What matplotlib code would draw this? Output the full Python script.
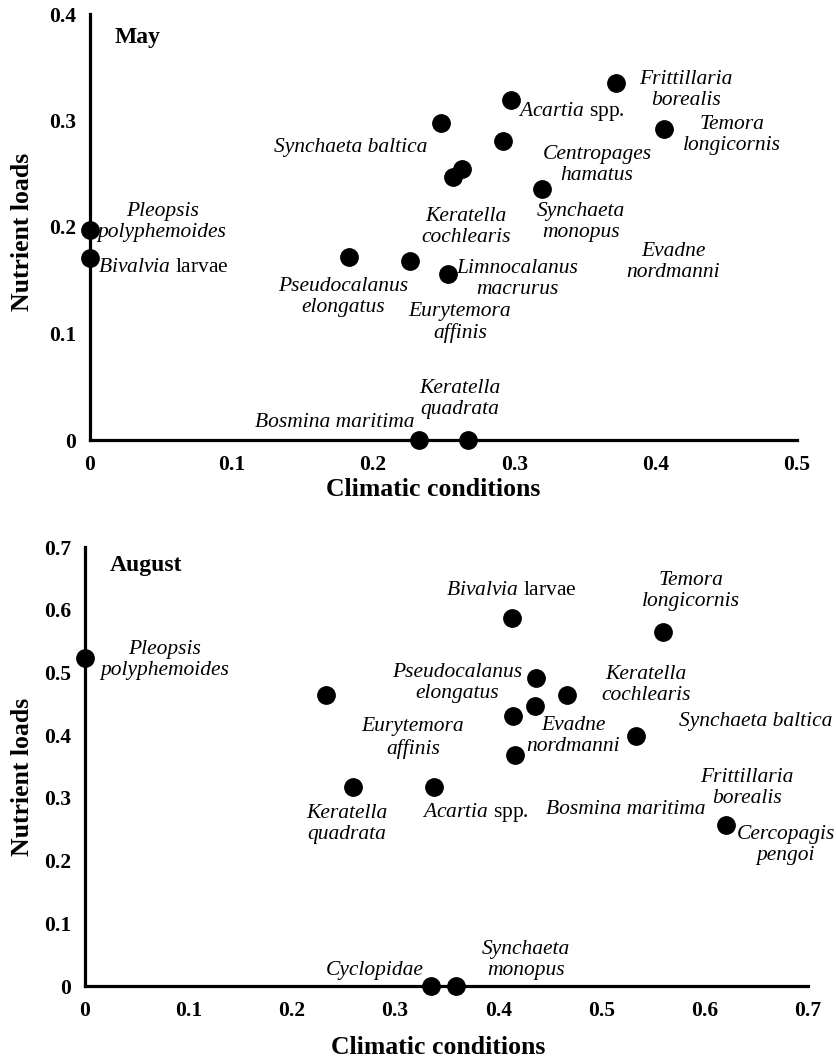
import matplotlib
matplotlib.use("Agg")
import matplotlib.pyplot as plt

plt.rcParams['font.family'] = ['Liberation Serif', 'DejaVu Serif']
plt.rcParams['mathtext.fontset'] = 'custom'
plt.rcParams['mathtext.rm'] = 'Liberation Serif'
plt.rcParams['mathtext.it'] = 'Liberation Serif:italic'
plt.rcParams['mathtext.bf'] = 'Liberation Serif:bold'

# May: dot coordinates
may_x = [0, 0, 0.183, 0.226, 0.253, 0.248, 0.292, 0.298, 0.263, 0.257, 0.320, 0.372, 0.406, 0.233, 0.267]
may_y = [0.197, 0.171, 0.172, 0.168, 0.156, 0.298, 0.281, 0.319, 0.254, 0.247, 0.236, 0.335, 0.292, 0.0, 0.0]

# August: dot coordinates
aug_x = [0, 0.233, 0.259, 0.338, 0.437, 0.436, 0.414, 0.416, 0.413, 0.560, 0.467, 0.533, 0.621, 0.335, 0.359]
aug_y = [0.523, 0.464, 0.317, 0.317, 0.491, 0.447, 0.431, 0.368, 0.587, 0.565, 0.464, 0.399, 0.257, 0.0, 0.0]

# species labels
may_labels = ["Pleopsis\npolyphemoides", r"$\mathit{Bivalvia}$ larvae", "Synchaeta baltica",
              r"$\mathit{Acartia}$ spp.", "Frittillaria\nborealis", "Temora\nlongicornis",
              "Centropages\nhamatus", "Keratella\ncochlearis", "Synchaeta\nmonopus",
              "Evadne\nnordmanni", "Limnocalanus\nmacrurus", "Eurytemora\naffinis",
              "Pseudocalanus\nelongatus", "Bosmina maritima", "Keratella\nquadrata"]
aug_labels = ["Pleopsis\npolyphemoides", r"$\mathit{Bivalvia}$ larvae", "Temora\nlongicornis",
              "Pseudocalanus\nelongatus", "Keratella\ncochlearis", "Eurytemora\naffinis",
              "Evadne\nnordmanni", "Synchaeta baltica", "Frittillaria\nborealis",
              "Bosmina maritima", "Cercopagis\npengoi", "Keratella\nquadrata",
              r"$\mathit{Acartia}$ spp.", "Cyclopidae", "Synchaeta\nmonopus"]

# label placement (layout)
may_pos = [(0.051, 0.205, 'center'), (0.0057, 0.162, 'left'), (0.1846, 0.275, 'center'),
           (0.3027, 0.308, 'left'), (0.4215, 0.3286, 'center'), (0.454, 0.2864, 'center'),
           (0.3586, 0.258, 'center'), (0.266, 0.200, 'center'), (0.347, 0.2047, 'center'),
           (0.4123, 0.167, 'center'), (0.302, 0.151, 'center'), (0.2617, 0.110, 'center'),
           (0.179, 0.134, 'center'), (0.2298, 0.0169, 'right'), (0.2617, 0.0385, 'center')]
aug_pos = [(0.0774, 0.520, 'center'), (0.413, 0.630, 'center'), (0.5866, 0.630, 'center'),
           (0.360, 0.483, 'center'), (0.543, 0.480, 'center'), (0.3175, 0.3955, 'center'),
           (0.473, 0.399, 'center'), (0.6496, 0.421, 'center'), (0.641, 0.316, 'center'),
           (0.5237, 0.281, 'center'), (0.6786, 0.225, 'center'), (0.2536, 0.258, 'center'),
           (0.3775, 0.276, 'center'), (0.328, 0.0255, 'right'), (0.427, 0.0415, 'center')]

W, H = 837, 1061
fig = plt.figure(figsize=(W / 100, H / 100), dpi=100)


def make_panel(rect, xs, ys, labels, pos, xmax, ymax, xticks, yticks, title, title_xy,
               ylab_y, xlab_y, xlab_x):
    l, b, r, t = rect
    ax = fig.add_axes([l / W, 1 - b / H, (r - l) / W, (b - t) / H])
    ax.set_xlim(0, xmax)
    ax.set_ylim(0, ymax)
    for s in ['top', 'right']:
        ax.spines[s].set_visible(False)
    for s in ['left', 'bottom']:
        ax.spines[s].set_linewidth(2.3)
    ax.set_xticks(xticks)
    ax.set_yticks(yticks)
    ax.set_xticklabels(["0" if v == 0 else f"{v:.1f}" for v in xticks])
    ax.set_yticklabels(["0" if v == 0 else f"{v:.1f}" for v in yticks])
    ax.tick_params(length=0, labelsize=15.5)
    ax.tick_params(axis='y', pad=10)
    ax.tick_params(axis='x', pad=11)
    for lab in ax.get_xticklabels() + ax.get_yticklabels():
        lab.set_fontweight('bold')
    ax.plot(xs, ys, 'o', color='black', markersize=12.5, linestyle='none',
            clip_on=False, zorder=5)
    for txt, (x, y, ha) in zip(labels, pos):
        ax.text(x, y, txt, ha=ha, va='center', multialignment='center',
                fontsize=15.5, style='normal' if '$' in txt else 'italic',
                linespacing=1.15)
    ax.text(title_xy[0], title_xy[1], title, fontsize=17, fontweight='bold',
            ha='left', va='center')
    fig.text(23 / W, 1 - ylab_y / H, "Nutrient loads", rotation=90, fontsize=18.5,
             fontweight='bold', ha='center', va='center')
    fig.text(xlab_x / W, 1 - xlab_y / H, "Climatic conditions", fontsize=18.5,
             fontweight='bold', ha='center', va='center')
    return ax


make_panel((90, 440, 797, 14), may_x, may_y, may_labels, may_pos, 0.5, 0.4,
           [0, 0.1, 0.2, 0.3, 0.4, 0.5], [0, 0.1, 0.2, 0.3, 0.4],
           "May", (0.0177, 0.378), 232, 490, 433)
make_panel((85, 986, 808, 547), aug_x, aug_y, aug_labels, aug_pos, 0.7, 0.7,
           [0, 0.1, 0.2, 0.3, 0.4, 0.5, 0.6, 0.7], [0, 0.1, 0.2, 0.3, 0.4, 0.5, 0.6, 0.7],
           "August", (0.0242, 0.670), 777, 1047, 438)

fig.savefig("out.png", dpi=100)
